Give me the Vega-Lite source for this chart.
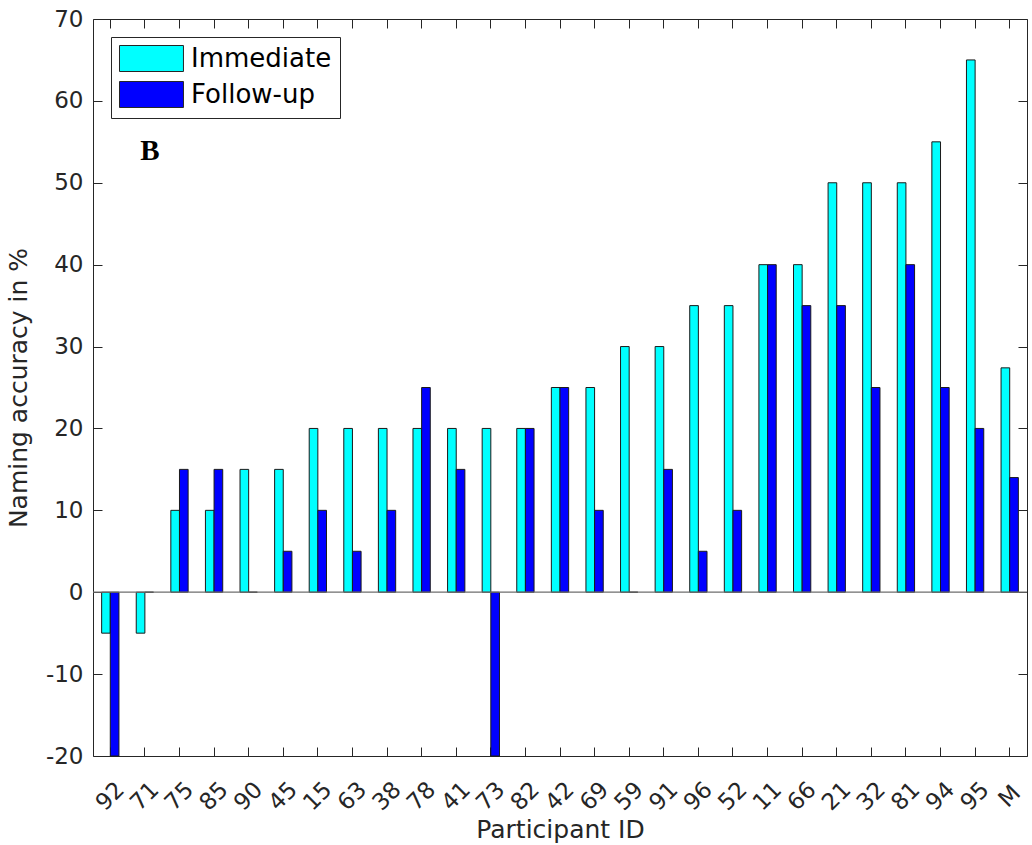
{
  "$schema": "https://vega.github.io/schema/vega-lite/v6.json",
  "width": 934,
  "height": 737,
  "autosize": {"type": "none"},
  "padding": {"left": 93, "top": 19, "right": 5, "bottom": 89},
  "background": "white",
  "config": {
    "view": {"stroke": null},
    "font": "DejaVu Sans",
    "axis": {
      "grid": false,
      "domainColor": "#262626",
      "tickColor": "#262626",
      "labelColor": "#262626",
      "titleColor": "#262626",
      "labelFont": "DejaVu Sans",
      "titleFont": "DejaVu Sans",
      "titleFontWeight": "normal",
      "tickSize": -9,
      "domainWidth": 1,
      "tickWidth": 1
    },
    "legend": {
      "title": null,
      "orient": "top-left",
      "offset": 18,
      "padding": 8,
      "strokeColor": "#262626",
      "fillColor": "white",
      "labelFont": "DejaVu Sans",
      "labelFontSize": 26,
      "labelColor": "#000000",
      "symbolType": "M-1,-1L3.92,-1L3.92,1L-1,1Z",
      "symbolSize": 676,
      "symbolStrokeColor": "#262626",
      "symbolStrokeWidth": 1,
      "symbolOpacity": 1,
      "labelOffset": 45,
      "rowPadding": 5
    }
  },
  "data": {
    "values": [
      {"id": "92", "phase": "Immediate", "value": -5}, {"id": "92", "phase": "Follow-up", "value": -20},
      {"id": "71", "phase": "Immediate", "value": -5}, {"id": "71", "phase": "Follow-up", "value": 0},
      {"id": "75", "phase": "Immediate", "value": 10}, {"id": "75", "phase": "Follow-up", "value": 15},
      {"id": "85", "phase": "Immediate", "value": 10}, {"id": "85", "phase": "Follow-up", "value": 15},
      {"id": "90", "phase": "Immediate", "value": 15}, {"id": "90", "phase": "Follow-up", "value": 0},
      {"id": "45", "phase": "Immediate", "value": 15}, {"id": "45", "phase": "Follow-up", "value": 5},
      {"id": "15", "phase": "Immediate", "value": 20}, {"id": "15", "phase": "Follow-up", "value": 10},
      {"id": "63", "phase": "Immediate", "value": 20}, {"id": "63", "phase": "Follow-up", "value": 5},
      {"id": "38", "phase": "Immediate", "value": 20}, {"id": "38", "phase": "Follow-up", "value": 10},
      {"id": "78", "phase": "Immediate", "value": 20}, {"id": "78", "phase": "Follow-up", "value": 25},
      {"id": "41", "phase": "Immediate", "value": 20}, {"id": "41", "phase": "Follow-up", "value": 15},
      {"id": "73", "phase": "Immediate", "value": 20}, {"id": "73", "phase": "Follow-up", "value": -20},
      {"id": "82", "phase": "Immediate", "value": 20}, {"id": "82", "phase": "Follow-up", "value": 20},
      {"id": "42", "phase": "Immediate", "value": 25}, {"id": "42", "phase": "Follow-up", "value": 25},
      {"id": "69", "phase": "Immediate", "value": 25}, {"id": "69", "phase": "Follow-up", "value": 10},
      {"id": "59", "phase": "Immediate", "value": 30}, {"id": "59", "phase": "Follow-up", "value": 0},
      {"id": "91", "phase": "Immediate", "value": 30}, {"id": "91", "phase": "Follow-up", "value": 15},
      {"id": "96", "phase": "Immediate", "value": 35}, {"id": "96", "phase": "Follow-up", "value": 5},
      {"id": "52", "phase": "Immediate", "value": 35}, {"id": "52", "phase": "Follow-up", "value": 10},
      {"id": "11", "phase": "Immediate", "value": 40}, {"id": "11", "phase": "Follow-up", "value": 40},
      {"id": "66", "phase": "Immediate", "value": 40}, {"id": "66", "phase": "Follow-up", "value": 35},
      {"id": "21", "phase": "Immediate", "value": 50}, {"id": "21", "phase": "Follow-up", "value": 35},
      {"id": "32", "phase": "Immediate", "value": 50}, {"id": "32", "phase": "Follow-up", "value": 25},
      {"id": "81", "phase": "Immediate", "value": 50}, {"id": "81", "phase": "Follow-up", "value": 40},
      {"id": "94", "phase": "Immediate", "value": 55}, {"id": "94", "phase": "Follow-up", "value": 25},
      {"id": "95", "phase": "Immediate", "value": 65}, {"id": "95", "phase": "Follow-up", "value": 20},
      {"id": "M", "phase": "Immediate", "value": 27.4}, {"id": "M", "phase": "Follow-up", "value": 14}
    ]
  },
  "layer": [
    {
      "mark": {"type": "bar", "stroke": "#1a1a1a", "strokeWidth": 1, "opacity": 1},
      "encoding": {
        "x": {
          "field": "id", "type": "nominal", "sort": null,
          "scale": {"domain": ["92","71","75","85","90","45","15","63","38","78","41","73","82","42","69","59","91","96","52","11","66","21","32","81","94","95","M"], "paddingInner": 0.5, "paddingOuter": 0.25},
          "axis": {"orient": "bottom", "title": "Participant ID", "titleFontSize": 25, "titlePadding": 3, "labelFontSize": 23, "labelAngle": -45, "labelAlign": "center", "labelBaseline": "middle", "labelPadding": 49}
        },
        "xOffset": {"field": "phase", "type": "nominal", "scale": {"domain": ["Immediate", "Follow-up"], "paddingInner": 0, "paddingOuter": 0}},
        "y": {
          "field": "value", "type": "quantitative",
          "scale": {"domain": [-20, 70], "nice": false, "zero": false},
          "axis": {"orient": "left", "title": "Naming accuracy in %", "titleFontSize": 25, "titlePadding": 14, "labelFontSize": 23, "labelPadding": 19, "values": [-20,-10,0,10,20,30,40,50,60,70], "labelExpr": "replace(datum.label, '−', '-')"}
        },
        "color": {"field": "phase", "type": "nominal", "scale": {"domain": ["Immediate", "Follow-up"], "range": ["#00FFFF", "#0000FF"]}, "legend": {}}
      }
    },
    {
      "data": {"values": [{"base": 0}]},
      "mark": {"type": "rule", "color": "#6e6e6e", "strokeWidth": 1.2},
      "encoding": {"y": {"field": "base", "type": "quantitative", "axis": null}}
    },
    {
      "data": {"values": [{"id": "71", "pos": 52.8, "label": "B"}]},
      "mark": {"type": "text", "font": "Liberation Serif", "fontWeight": "bold", "fontSize": 29, "align": "center", "baseline": "alphabetic", "dx": 5, "color": "#000000"},
      "encoding": {
        "x": {"field": "id", "type": "nominal", "axis": null},
        "y": {"field": "pos", "type": "quantitative", "axis": null},
        "text": {"field": "label"}
      }
    },
    {
      "mark": {"type": "bar", "opacity": 0},
      "encoding": {
        "x": {"field": "id", "type": "nominal", "sort": null, "axis": {"orient": "top", "title": null, "labels": false}},
        "y": {"field": "value", "type": "quantitative", "axis": {"orient": "right", "title": null, "labels": false, "values": [-20,-10,0,10,20,30,40,50,60,70]}}
      }
    }
  ],
  "resolve": {"axis": {"x": "independent", "y": "independent"}}
}
